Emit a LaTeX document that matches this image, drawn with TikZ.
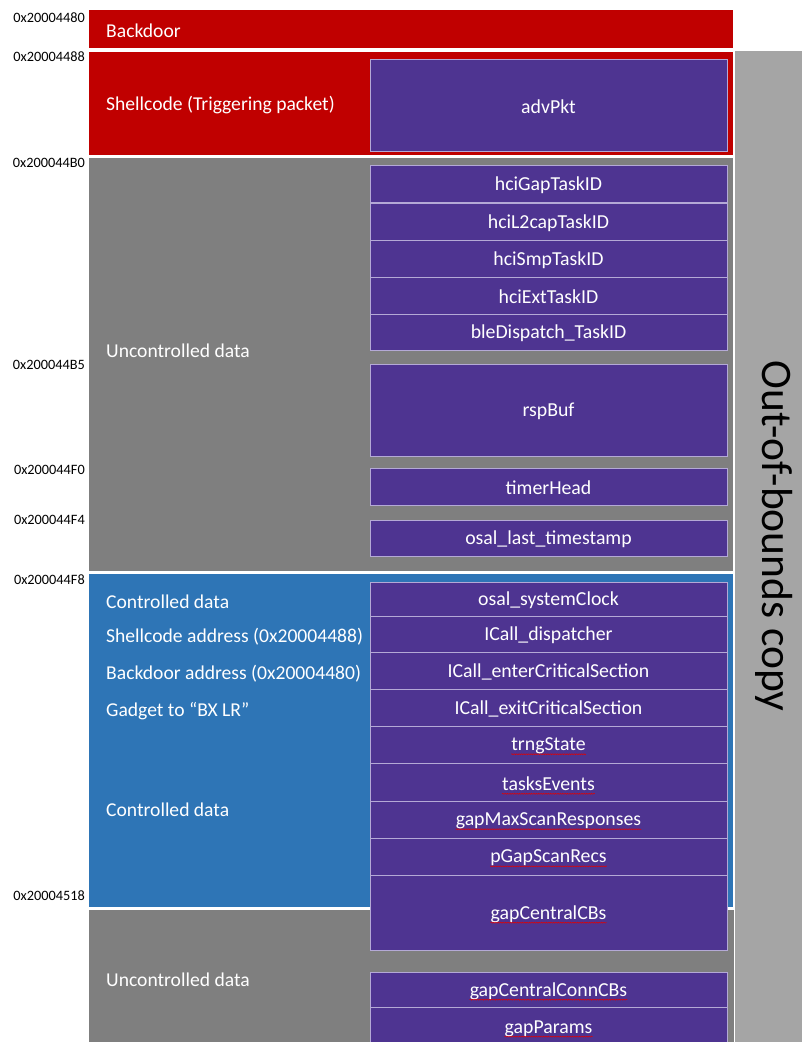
\documentclass[tikz,border=0pt]{standalone}
\usepackage{fontspec}
\setmainfont{Carlito}
\usetikzlibrary{decorations.pathmorphing}
\definecolor{redc}{HTML}{C00000}
\definecolor{grayc}{HTML}{7F7F7F}
\definecolor{bluec}{HTML}{2E75B6}
\definecolor{purc}{HTML}{4E3491}
\definecolor{oobc}{HTML}{A5A5A5}
\definecolor{pborder}{HTML}{B4A9D6}
\begin{document}
\begin{tikzpicture}[x=1pt,y=-1pt,
 region/.style={draw=none, anchor=north west, inner sep=0pt, outer sep=0pt},
 pbox/.style={draw=pborder, fill=purc, line width=0.9pt, anchor=north west, minimum width=357pt, inner sep=0pt, outer sep=0pt},
 ptext/.style={inner sep=0pt, text=white, font=\fontsize{19.8}{23}\selectfont},
 lbl/.style={anchor=west, text=white, font=\fontsize{19.6}{23}\selectfont, inner sep=0pt},
 addr/.style={anchor=east, font=\fontsize{14.3}{17}\selectfont, inner sep=0pt},
 squig/.style={draw=red!90!black, decorate, decoration={snake, amplitude=0.5pt, segment length=2.4pt}, line width=0.5pt}]
\useasboundingbox (0,0) rectangle (801,1042);
\fill[white] (0,0) rectangle (801,1042);
\newcommand\pbx[4]{\node[pbox, minimum height=#3pt] (#1) at (370,#2) {};
  \node[ptext] (#1t) at ([yshift=-1.5pt]#1.center) {#4};}
\newcommand\pbs[4]{\pbx{#1}{#2}{#3}{#4}
  \draw[squig] ([yshift=-3.5pt]#1t.base west) -- ([yshift=-3.5pt]#1t.base east);}
% regions
\node[region, fill=redc, minimum width=644pt, minimum height=38pt] (bd) at (89,10) {};
\node[region, fill=redc, minimum width=644pt, minimum height=103pt] (sc) at (89,52) {};
\node[region, fill=grayc, minimum width=644pt, minimum height=413pt] (un1) at (89,158) {};
\node[region, fill=bluec, minimum width=644pt, minimum height=333pt] (cd) at (89,574) {};
\node[region, fill=grayc, minimum width=645pt, minimum height=140pt] (un2) at (89,910) {};
\node[region, fill=oobc, minimum width=70pt, minimum height=1000pt] (oob) at (735,51) {};
\node[rotate=-90, font=\fontsize{43.5}{48}\selectfont, inner sep=0pt] (oobt) at (774,536) {Out-of-bounds copy};
% purple boxes
\pbx{adv}{59}{92}{advPkt}
\pbx{p1}{165}{37}{hciGapTaskID}
\pbx{p2}{203}{37}{hciL2capTaskID}
\pbx{p3}{240}{37}{hciSmpTaskID}
\pbx{p4}{277}{37}{hciExtTaskID}
\pbx{p5}{314}{36}{bleDispatch\_TaskID}
\pbx{rsp}{364}{92}{rspBuf}
\pbx{th}{468}{37}{timerHead}
\pbx{olt}{520}{36}{osal\_last\_timestamp}
\pbx{osc}{582}{34}{osal\_systemClock}
\pbx{icd}{616}{36}{ICall\_dispatcher}
\pbx{ice}{652}{37}{ICall\_enterCriticalSection}
\pbx{icx}{689}{37}{ICall\_exitCriticalSection}
\pbs{trng}{726}{37}{trngState}
\pbs{tev}{763}{38}{tasksEvents}
\pbs{gms}{801}{37}{gapMaxScanResponses}
\pbs{pgs}{838}{37}{pGapScanRecs}
\pbs{gcc}{875}{75}{gapCentralCBs}
\pbs{gcn}{972}{35}{gapCentralConnCBs}
\pbs{gpp}{1007}{40}{gapParams}
% left labels
\node[lbl] (l1) at (106,31) {Backdoor};
\node[lbl] (l2) at (106,105) {Shellcode (Triggering packet)};
\node[lbl] (l3) at (106,351) {Uncontrolled data};
\node[lbl] (l4) at (106,602) {Controlled data};
\node[lbl] (l5) at (106,637) {Shellcode address (0x20004488)};
\node[lbl] (l6) at (106,674) {Backdoor address (0x20004480)};
\node[lbl] (l7) at (106,711) {Gadget to “BX LR”};
\node[lbl] (l8) at (106,810) {Controlled data};
\node[lbl] (l9) at (106,980) {Uncontrolled data};
% addresses
\node[addr] (a1) at (85,18) {0x20004480};
\node[addr] (a2) at (85,57) {0x20004488};
\node[addr] (a3) at (85,163) {0x200044B0};
\node[addr] (a4) at (85,365) {0x200044B5};
\node[addr] (a5) at (85,470) {0x200044F0};
\node[addr] (a6) at (85,520) {0x200044F4};
\node[addr] (a7) at (85,580) {0x200044F8};
\node[addr] (a8) at (85,896) {0x20004518};
\end{tikzpicture}
\end{document}
